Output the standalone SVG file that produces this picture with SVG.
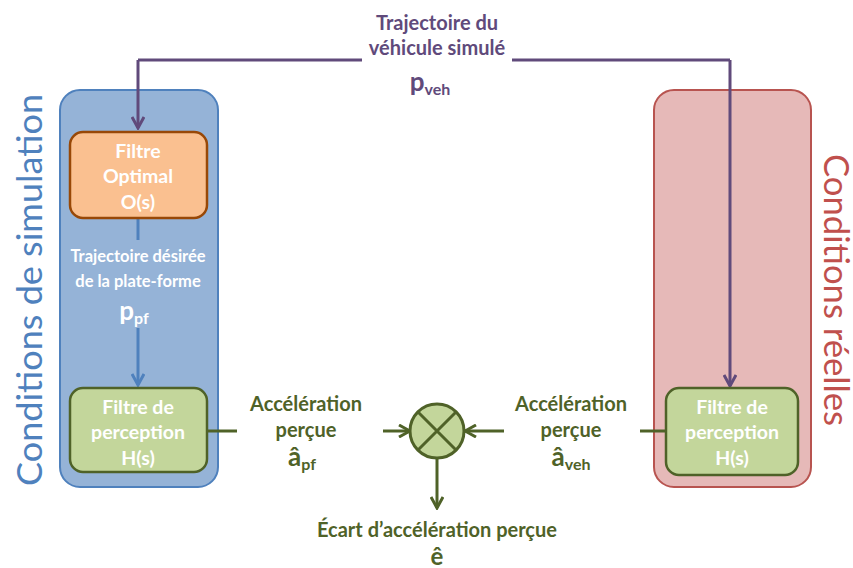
<svg xmlns="http://www.w3.org/2000/svg" width="853" height="568" viewBox="0 0 853 568">
<defs>
<style>
.t{font-family:Lato,"Open Sans","Liberation Sans",sans-serif;font-weight:bold;text-anchor:middle}
.w{fill:#ffffff;font-size:19.5px}
.pu{fill:#604a7b;font-size:20px}
.gr{fill:#4f6228;font-size:20px}
.bl{fill:#ffffff;font-size:16.5px}
.big{font-size:26px}
.sub{font-size:16px}
.side{font-family:Lato,"Open Sans","Liberation Sans",sans-serif;font-size:34px;text-anchor:middle}
</style>
<marker id="ap" viewBox="0 0 14 14" refX="12" refY="7" markerWidth="14" markerHeight="14" markerUnits="userSpaceOnUse" orient="auto"><path d="M1,1 L12,7 L1,13" fill="none" stroke="#604a7b" stroke-width="3"/></marker>
<marker id="ab" viewBox="0 0 14 14" refX="12" refY="7" markerWidth="14" markerHeight="14" markerUnits="userSpaceOnUse" orient="auto"><path d="M1,1 L12,7 L1,13" fill="none" stroke="#4f81bd" stroke-width="3"/></marker>
<marker id="ag" viewBox="0 0 14 14" refX="12" refY="7" markerWidth="14" markerHeight="14" markerUnits="userSpaceOnUse" orient="auto"><path d="M1,1 L12,7 L1,13" fill="none" stroke="#4f6228" stroke-width="3"/></marker>
</defs>
<rect width="853" height="568" fill="#ffffff"/>

<g id="sim-container">
<rect x="60" y="90" width="158" height="397" rx="20" fill="#95b3d7" stroke="#4f81bd" stroke-width="2"/>
<text class="side" fill="#4f81bd" transform="translate(42,290) rotate(-90)" textLength="392" lengthAdjust="spacingAndGlyphs">Conditions de simulation</text>
</g>
<g id="real-container">
<rect x="654" y="90" width="157" height="397" rx="20" fill="#e6b9b8" stroke="#b85450" stroke-width="2"/>
<text class="side" fill="#c0504d" transform="translate(824,290) rotate(90)" textLength="272" lengthAdjust="spacingAndGlyphs">Conditions réelles</text>
</g>

<g id="connectors" fill="none" stroke-width="3">
<path d="M138,60 H362 M512,60 H730" stroke="#604a7b"/>
<path d="M138,60 V128" stroke="#604a7b" marker-end="url(#ap)"/>
<path d="M730,60 V386" stroke="#604a7b" marker-end="url(#ap)"/>
<path d="M138,219 V240" stroke="#4f81bd"/>
<path d="M138,328 V385" stroke="#4f81bd" marker-end="url(#ab)"/>
<path d="M208,431 H237" stroke="#4f6228"/>
<path d="M383,431 H410" stroke="#4f6228" marker-end="url(#ag)"/>
<path d="M504,431 H465" stroke="#4f6228" marker-end="url(#ag)"/>
<path d="M640,431 H666" stroke="#4f6228"/>
<path d="M437,459 V508" stroke="#4f6228" marker-end="url(#ag)"/>
</g>

<g id="filtre-optimal">
<rect x="70" y="132" width="137" height="86" rx="13" fill="#fac090" stroke="#984807" stroke-width="2.5"/>
<text class="t w" x="138" y="158">Filtre</text>
<text class="t w" x="138" y="183">Optimal</text>
<text class="t w" x="138" y="209">O(s)</text>
</g>

<g id="filtre-perception-sim">
<rect x="70" y="388" width="137" height="84" rx="13" fill="#c3d69b" stroke="#4f6228" stroke-width="2.5"/>
<text class="t w" x="138" y="414">Filtre de</text>
<text class="t w" x="138" y="439">perception</text>
<text class="t w" x="138" y="465">H(s)</text>
</g>

<g id="filtre-perception-reel">
<rect x="666" y="388" width="132" height="87" rx="13" fill="#c3d69b" stroke="#4f6228" stroke-width="2.5"/>
<text class="t w" x="732" y="414">Filtre de</text>
<text class="t w" x="732" y="439">perception</text>
<text class="t w" x="732" y="465">H(s)</text>
</g>

<g id="comparateur">
<circle cx="437" cy="431" r="27" fill="#c3d69b" stroke="#4f6228" stroke-width="3"/>
<path d="M418,412 L456,450 M456,412 L418,450" stroke="#4f6228" stroke-width="3"/>
</g>

<g id="labels">
<text class="t pu" x="437" y="30">Trajectoire du</text>
<text class="t pu" x="437" y="55">véhicule simulé</text>
<text class="t pu big" x="430" y="91">p<tspan class="sub" dy="4">veh</tspan></text>

<text class="t bl" x="138" y="262">Trajectoire désirée</text>
<text class="t bl" x="138" y="287">de la plate-forme</text>
<text class="t w big" x="134" y="320">p<tspan class="sub" dy="4">pf</tspan></text>

<text class="t gr" x="306" y="411">Accélération</text>
<text class="t gr" x="306" y="437">perçue</text>
<text class="t gr big" x="302" y="466">â<tspan class="sub" dy="4">pf</tspan></text>

<text class="t gr" x="571" y="411">Accélération</text>
<text class="t gr" x="571" y="437">perçue</text>
<text class="t gr big" x="571" y="466">â<tspan class="sub" dy="4">veh</tspan></text>

<text class="t gr" x="437" y="537">Écart d’accélération perçue</text>
<text class="t gr" x="437" y="565" style="font-size:24px">ê</text>
</g>
</svg>
